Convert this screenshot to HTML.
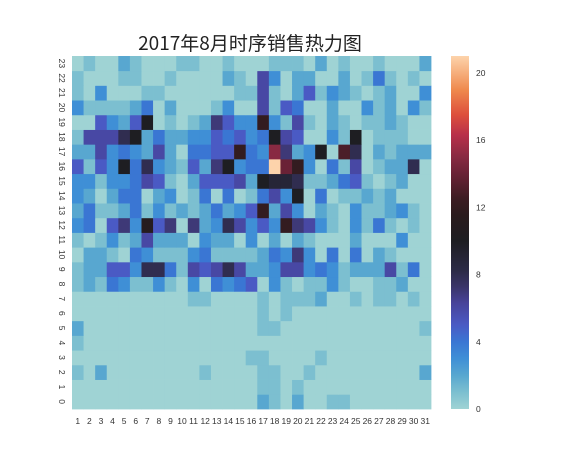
<!DOCTYPE html>
<html><head><meta charset="utf-8"><style>
body{margin:0;background:#fff;}
svg text{font-family:"Liberation Sans","Noto Sans CJK SC",sans-serif;fill:#333;}
</style></head><body>
<svg id="c" width="576" height="468" xmlns="http://www.w3.org/2000/svg">
<text x="250" y="50" text-anchor="middle" font-size="19" style="font-family:'Noto Sans CJK SC',sans-serif;fill:#222">2017年8月时序销售热力图</text>
<g id="cells"></g>
<g id="xt"></g>
<g id="yt"></g>
<defs><linearGradient id="cg" x1="0" y1="1" x2="0" y2="0"></linearGradient></defs>
<rect x="451" y="56" width="18" height="353" fill="url(#cg)"/>
<g id="ct"></g>
</svg>
<script>
const days=[1,2,3,4,5,6,7,8,9,10,11,12,13,14,15,16,17,18,19,20,21,22,23,24,25,26,27,28,29,30,31];
const hours=[0,1,2,3,4,5,6,7,8,9,10,11,12,13,14,15,16,17,18,19,20,21,22,23];
const cbTicks=[0,4,8,12,16,20];
// rows by hour (0..23), each with 31 daily values
const h0 =[0,0,0,0,0,0,0,0,0,0,0,0,0,0,0,0,2,1,0,2,0,0,1,1,0,0,0,0,0,0,0];
const h1 =[0,0,0,0,0,0,0,0,0,0,0,0,0,0,0,0,1,1,0,1,0,0,0,0,0,0,0,0,0,0,0];
const h2 =[1,0,2,0,0,0,0,0,0,0,0,1,0,0,0,0,1,1,0,0,1,0,0,0,0,0,0,0,0,0,2];
const h3 =[0,0,0,0,0,0,0,0,0,0,0,0,0,0,0,1,1,0,0,0,0,1,0,0,0,0,0,0,0,0,0];
const h4 =[1,0,0,0,0,0,0,0,0,0,0,0,0,0,0,0,0,0,0,0,0,0,0,0,0,0,0,0,0,0,0];
const h5 =[2,0,0,0,0,0,0,0,0,0,0,0,0,0,0,0,1,1,0,0,0,0,0,0,0,0,0,0,0,0,1];
const h6 =[0,0,0,0,0,0,0,0,0,0,0,0,0,0,0,0,1,0,1,0,0,0,0,0,0,0,0,0,0,0,0];
const h7 =[0,0,0,0,0,0,0,0,0,0,1,1,0,0,0,0,1,0,1,1,1,2,0,0,1,0,1,1,0,1,0];
const h8 =[1,2,1,4,3,1,1,3,1,0,3,0,4,3,4,5,0,3,1,0,1,1,3,1,0,0,1,1,2,0,0];
const h9 =[1,2,2,5,5,3,8,8,4,1,6,5,6,8,6,2,2,3,6,6,3,4,3,1,2,2,2,6,1,4,0];
const h10=[0,2,2,1,0,4,3,1,1,1,3,4,1,1,1,1,2,4,3,7,3,0,4,0,4,0,2,1,0,0,0];
const h11=[1,0,1,3,1,2,6,2,2,2,0,3,2,2,0,3,0,2,0,2,1,0,0,0,2,0,0,0,3,0,0];
const h12=[3,4,0,5,7,3,11,5,7,0,7,2,3,8,6,3,5,3,12,7,6,3,1,0,3,1,4,1,0,1,0];
const h13=[2,4,1,1,2,4,1,3,1,2,1,2,4,2,3,5,12,2,6,3,0,2,1,0,3,1,1,2,3,1,0];
const h14=[3,2,0,2,4,4,0,2,3,0,1,4,0,4,0,1,4,6,3,10,0,4,0,1,1,2,1,2,0,0,0];
const h15=[3,3,1,3,3,4,6,5,1,0,2,5,5,5,6,2,10,9,9,8,1,1,2,4,5,1,0,1,2,0,0];
const h16=[5,1,5,3,10,4,8,3,2,1,5,2,7,10,3,4,4,21,14,12,3,0,4,1,6,0,1,2,2,8,0];
const h17=[2,2,6,3,4,3,2,6,2,0,4,4,5,5,12,4,3,15,7,2,3,10,0,13,8,0,2,1,2,2,2];
const h18=[1,6,6,6,8,10,2,4,2,2,3,3,5,4,5,3,4,10,6,5,0,0,3,1,10,0,1,1,1,0,0];
const h19=[0,0,5,3,2,5,10,0,1,0,1,2,7,5,3,3,12,3,1,6,1,0,2,1,0,1,1,2,1,0,0];
const h20=[3,1,1,1,1,2,4,0,2,0,0,0,1,3,0,0,6,1,5,4,0,0,2,0,0,3,1,2,0,3,1];
const h21=[1,0,3,0,0,0,1,1,0,0,0,0,0,0,1,1,6,1,0,2,5,1,3,2,1,0,1,2,0,0,3];
const h22=[1,0,0,0,1,1,0,0,1,0,0,0,0,2,1,0,6,3,0,2,2,0,0,2,0,1,4,1,0,1,0];
const h23=[0,1,0,0,2,1,0,0,0,1,1,0,0,1,0,0,0,1,1,1,0,2,0,1,0,0,1,0,0,0,2];
const grid=[h0,h1,h2,h3,h4,h5,h6,h7,h8,h9,h10,h11,h12,h13,h14,h15,h16,h17,h18,h19,h20,h21,h22,h23];
const vmin=0,vmax=21;
const L=72,R=431,T=56,B=409;
const cw=(R-L)/days.length, ch=(B-T)/hours.length;
const xs=i=>L+i*cw, ys=h=>B-(h+1)*ch;
const stops=[[0,'#9fd3d4'],[1,'#7cbfd0'],[2,'#58a7d0'],[3,'#3f8fd6'],[4,'#3a76d3'],[5,'#4a5ac4'],[6.3,'#48439a'],[7.3,'#3a3468'],[8.3,'#2b2a45'],[10,'#1e1e22'],[11.5,'#2a1b1d'],[12.5,'#3c1c22'],[14,'#6a2236'],[15,'#882a42'],[16.3,'#b8304a'],[17.5,'#dd4f3c'],[19,'#ef8a4e'],[21,'#fdd3ab']];
function hex(c){return [1,3,5].map(i=>parseInt(c.substr(i,2),16));}
function col(v){
  if(v<=stops[0][0])return stops[0][1];
  for(let i=1;i<stops.length;i++){if(v<=stops[i][0]){const a=stops[i-1],b=stops[i];const t=(v-a[0])/(b[0]-a[0]);const p=hex(a[1]),q=hex(b[1]);return 'rgb('+p.map((x,k)=>Math.round(x+(q[k]-x)*t)).join(',')+')';}}
  return stops[stops.length-1][1];
}
const NS='http://www.w3.org/2000/svg';
const cells=document.getElementById('cells');
hours.forEach((h,hi)=>{grid[hi].forEach((v,di)=>{
  const r=document.createElementNS(NS,'rect');
  r.setAttribute('x',xs(di));r.setAttribute('y',ys(hi));
  r.setAttribute('width',cw+0.4);r.setAttribute('height',ch+0.4);
  r.setAttribute('fill',col(v));
  
  
  cells.appendChild(r);
});});
const xt=document.getElementById('xt');
days.forEach((d,i)=>{
  const t=document.createElementNS(NS,'text');
  t.setAttribute('x',xs(i)+cw/2);t.setAttribute('y',424);
  t.setAttribute('text-anchor','middle');t.setAttribute('font-size','8.5');
  t.textContent=d;
  
  
  xt.appendChild(t);
});
const yt=document.getElementById('yt');
hours.forEach((h,i)=>{
  const t=document.createElementNS(NS,'text');
  const cx=62,cy=ys(i)+ch/2;
  t.setAttribute('x',cx);t.setAttribute('y',cy);
  t.setAttribute('text-anchor','middle');t.setAttribute('font-size','8.5');
  t.setAttribute('transform','rotate(90 '+cx+' '+cy+')');
  t.setAttribute('dy','3');
  t.textContent=h;
  
  
  yt.appendChild(t);
});
const g=document.getElementById('cg');
stops.forEach(s=>{const st=document.createElementNS(NS,'stop');st.setAttribute('offset',(s[0]-vmin)/(vmax-vmin));st.setAttribute('stop-color',s[1]);g.appendChild(st);});
const ct=document.getElementById('ct');
cbTicks.forEach(v=>{
  const t=document.createElementNS(NS,'text');
  t.setAttribute('x',476);t.setAttribute('y',B-(v-vmin)/(vmax-vmin)*(B-T)+3);
  t.setAttribute('font-size','8.5');
  t.textContent=v;
  
  
  ct.appendChild(t);
});
</script>
</body></html>
